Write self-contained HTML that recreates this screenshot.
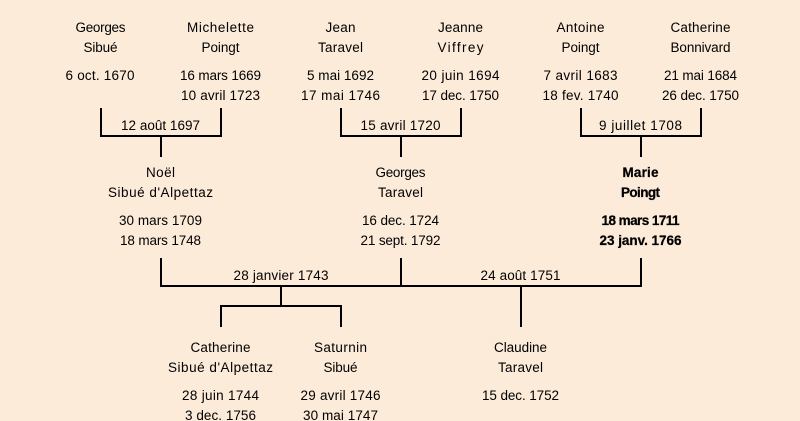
<!DOCTYPE html>
<html lang="fr">
<head>
<meta charset="utf-8">
<title>Arbre généalogique</title>
<style>
html,body{margin:0;padding:0;width:800px;height:421px;overflow:hidden;background:#fcebd9}
svg{display:block}
text{font-family:"Comic Sans MS","Liberation Sans",sans-serif;font-size:13.5px;fill:#000;text-anchor:middle}
.b{font-weight:bold;fill:#000;stroke:#000;stroke-width:.25px}
</style>
</head>
<body>
<svg width="800" height="421" viewBox="0 0 800 421" xmlns="http://www.w3.org/2000/svg">
<rect width="800" height="421" fill="#fcebd9"/>
<g fill="none" stroke="#000" stroke-width="2">
<path d="M101 108V136H221V108M161 136V157"/>
<path d="M341 108V136H461V108M401 136V157"/>
<path d="M581 108V136H701V108M641 136V157"/>
<path d="M161 258V286H641V258M401 258V286"/>
<path d="M281 286V306M221 327V306H341V327M521 286V327"/>
</g>
<g transform="translate(.5 0)">
<text x="100" y="32" textLength="50">Georges</text>
<text x="100" y="52" textLength="34">Sibué</text>
<text x="99.5" y="80" textLength="69">6 oct. 1670</text>
<text x="220" y="32" textLength="67">Michelette</text>
<text x="220" y="52" textLength="38">Poingt</text>
<text x="220" y="80" textLength="81">16 mars 1669</text>
<text x="220" y="100" textLength="79">10 avril 1723</text>
<text x="160" y="130" textLength="79">12 août 1697</text>
<text x="340" y="32" textLength="30">Jean</text>
<text x="340" y="52" textLength="45">Taravel</text>
<text x="340" y="80" textLength="67">5 mai 1692</text>
<text x="340" y="100" textLength="79">17 mai 1746</text>
<text x="460" y="32" textLength="45">Jeanne</text>
<text x="460" y="52" textLength="46">Viffrey</text>
<text x="460" y="80" textLength="78">20 juin 1694</text>
<text x="460" y="100" textLength="77">17 dec. 1750</text>
<text x="400" y="130" textLength="80">15 avril 1720</text>
<text x="580" y="32" textLength="48">Antoine</text>
<text x="580" y="52" textLength="38">Poingt</text>
<text x="580" y="80" textLength="74">7 avril 1683</text>
<text x="580" y="100" textLength="76">18 fev. 1740</text>
<text x="700" y="32" textLength="60">Catherine</text>
<text x="700" y="52" textLength="60">Bonnivard</text>
<text x="700" y="80" textLength="73">21 mai 1684</text>
<text x="700" y="100" textLength="77">26 dec. 1750</text>
<text x="640" y="130" textLength="83">9 juillet 1708</text>
<text x="160" y="177" textLength="29">Noël</text>
<text x="160" y="197" textLength="105">Sibué d'Alpettaz</text>
<text x="160" y="225" textLength="83">30 mars 1709</text>
<text x="160" y="245" textLength="81">18 mars 1748</text>
<text x="400" y="177" textLength="50">Georges</text>
<text x="400" y="197" textLength="45">Taravel</text>
<text x="400" y="225" textLength="77">16 dec. 1724</text>
<text x="400" y="245" textLength="80">21 sept. 1792</text>
<text class="b" x="640" y="177" textLength="36">Marie</text>
<text class="b" x="640" y="197" textLength="39">Poingt</text>
<text class="b" x="640" y="225" textLength="78">18 mars 1711</text>
<text class="b" x="640" y="245" textLength="82">23 janv. 1766</text>
<text x="280.5" y="280" textLength="95">28 janvier 1743</text>
<text x="520" y="280" textLength="80">24 août 1751</text>
<text x="220" y="352" textLength="60">Catherine</text>
<text x="220" y="372" textLength="105">Sibué d'Alpettaz</text>
<text x="220" y="400" textLength="77">28 juin 1744</text>
<text x="220" y="420" textLength="71">3 dec. 1756</text>
<text x="340" y="352" textLength="53">Saturnin</text>
<text x="340" y="372" textLength="34">Sibué</text>
<text x="340" y="400" textLength="80">29 avril 1746</text>
<text x="340" y="420" textLength="75">30 mai 1747</text>
<text x="520" y="352" textLength="53">Claudine</text>
<text x="520" y="372" textLength="45">Taravel</text>
<text x="520" y="400" textLength="77">15 dec. 1752</text>
</g>
</svg>
</body>
</html>
